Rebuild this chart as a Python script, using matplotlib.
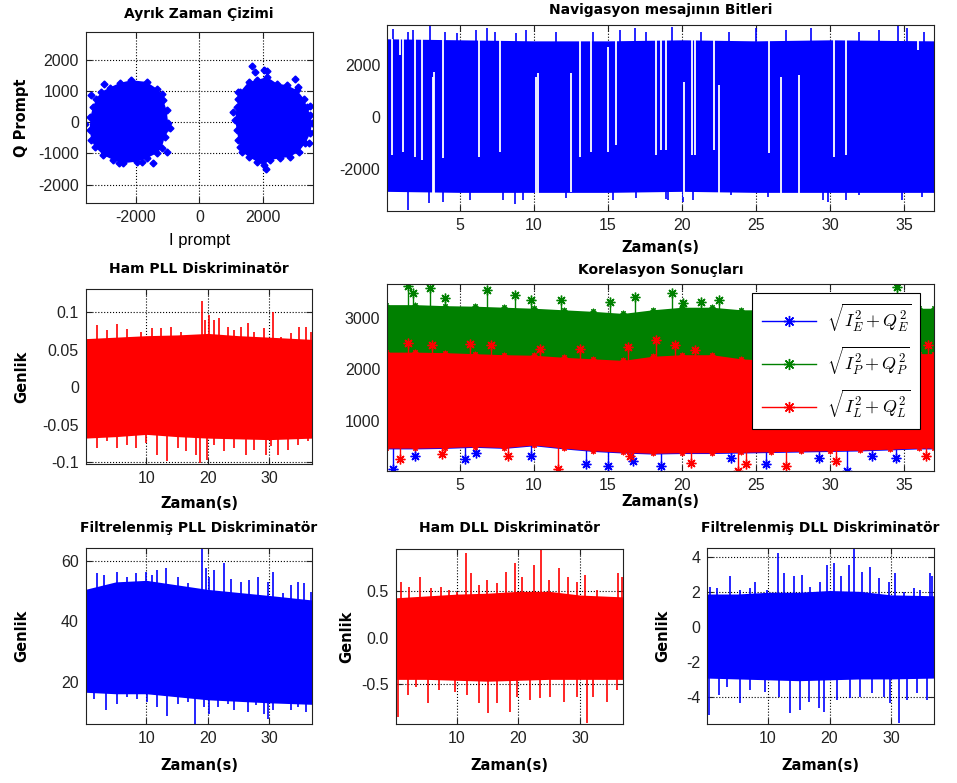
import numpy as np
import matplotlib
matplotlib.use('Agg')
import matplotlib.pyplot as plt
from matplotlib.lines import Line2D

plt.rcParams['font.family'] = ['Liberation Sans', 'DejaVu Sans']
plt.rcParams['axes.unicode_minus'] = False
plt.rcParams['mathtext.fontset'] = 'cm'

# ---------------- data ----------------
# I/Q scatter: outline of both clusters and the stray points around them
left_cluster_i = [-2132, -1659, -1344, -1187, -1134, -1029, -977, -924, -1082, -1187, -1344, -1659,
                  -1974, -2394, -2709, -3024, -3287, -3392, -3444, -3423, -3339, -3234, -3077, -2814, -2499]
left_cluster_q = [1341, 1287, 1075, 915, 702, 383, -43, -202, -468, -841, -1000, -1160,
                  -1266, -1319, -1213, -1053, -787, -575, -255, 170, 489, 755, 968, 1107, 1255]
right_cluster_i = [1281, 1544, 1806, 2121, 2436, 2751, 3066, 3276, 3381, 3486, 3539, 3486, 3329,
                   3119, 2856, 2541, 2226, 2016, 1806, 1544, 1334, 1229, 1176, 1124, 1176, 1229]
right_cluster_q = [968, 1287, 1341, 1447, 1234, 1181, 1021, 755, 489, 223, -43, -362, -681,
                   -947, -1107, -1160, -1213, -1373, -1266, -1107, -947, -575, -255, 64, 489, 755]
stray_i = [-3003, -3602, -1449, -2520, -977, -1029, -3392, -1817,
           1649, 2016, 2121, 1754, 3014, 3098, 1229, 1071, 3465, 3591, 3434, 2090, 1281]
stray_q = [1234, -64, -1298, -1298, -149, -947, 862, -1266,
           1788, 1660, 1639, 1607, 1394, 1128, 968, 330, 511, -309, -681, -1511, -787]

# time knots for the dense part of each signal
knot_t = [0, 5, 10, 15, 20, 25, 30, 37]

# navigation bits (I prompt)
nav_top = [3000, 2960, 2920, 2920, 2960, 2920, 2960, 2920]
nav_bot = [-2870, -2910, -2910, -2910, -2870, -2910, -2910, -2910]
nav_up_t = [0.51, 1.52, 1.86, 2.98, 3.99, 4.78, 6.12, 6.80, 7.36, 8.82, 9.49, 11.51, 13.98, 15.78,
            16.79, 17.58, 19.33, 21.28, 23.19, 24.99, 27.01, 28.70, 31.95, 33.30, 34.54, 35.21, 36.33]
nav_up_v = [3360, 3270, 3334, 3488, 3270, 3206, 3334, 3398, 3270, 3206, 3334, 3245, 3270, 3334,
            3398, 3245, 3462, 3270, 3270, 3398, 3334, 3398, 3270, 3334, 3488, 3398, 3270]
nav_dn_t = [1.52, 3.88, 2.9, 5.67, 7.9, 8.71, 9.27, 12.19, 15.33, 16.9, 18.93, 19.04, 20.05, 20.72,
            23.31, 25.8, 29.48, 29.82, 31.06, 31.95, 34.87, 36.2]
nav_dn_v = [-3589, -3268, -3332, -3204, -3204, -3357, -3204, -3140, -3204, -3140, -3178, -3204,
            -3268, -3204, -3012, -3076, -3204, -3268, -3204, -3012, -3204, -3076]
nav_gap_t = [0.40, 0.96, 1.18, 1.97, 2.42, 3.16, 3.27, 3.88, 6.30, 7.70, 10.12, 10.28, 12.53, 13.09,
             13.87, 15.00, 15.56, 18.25, 18.59, 18.88, 20.10, 20.66, 20.84, 22.14, 22.47, 25.84,
             26.67, 27.90, 30.27, 31.06, 35.90]
nav_gap_lo = [-1470, 2370, -1350, -1540, -1670, -3200, -3200, -1600, -1540, -1350, -3080, -2950,
              -2880, -1540, -1350, -1350, -1090, -1470, -1280, -1280, -3080, -1470, -1470, -1280,
              -3080, -1410, -3080, -3080, -1540, -1470, 2560]
nav_gap_hi = [2975, 3200, 2975, 3100, 3100, 1540, 1730, 2975, 2975, 2975, 1540, 1670, 1670, 2975,
              2975, 2700, 2975, 2975, 2975, 2975, 1350, 2975, 2975, 2975, 1220, 2975, 1540, 1600,
              2975, 2975, 3000]

# raw PLL discriminator
pll_top = [0.065, 0.067, 0.069, 0.070, 0.072, 0.069, 0.067, 0.064]
pll_bot = [-0.068, -0.066, -0.063, -0.066, -0.068, -0.069, -0.070, -0.068]
pll_up_t = [2.0, 3.63, 5.15, 6.79, 9.07, 10.97, 12.33, 13.96, 15.6, 16.68, 17.5, 18.97, 19.51, 20.22,
            21.03, 21.85, 23.21, 24.3, 25.38, 26.47, 27.56, 29.19, 30.55, 31.91, 33.54, 34.9, 35.99, 36.8]
pll_up_v = [0.083, 0.0764, 0.0844, 0.0778, 0.0742, 0.0787, 0.0796, 0.0809, 0.0742, 0.0698, 0.0653,
            0.1156, 0.0898, 0.0964, 0.0898, 0.092, 0.0809, 0.0764, 0.0809, 0.0853, 0.0742, 0.0787,
            0.1009, 0.0676, 0.072, 0.0809, 0.0809, 0.0742]
pll_dn_t = [0.48, 2.0, 3.63, 5.26, 6.79, 8.25, 9.89, 11.79, 13.42, 15.05, 16.41, 18.04, 18.75, 19.84,
            21.03, 22.66, 24.3, 26.2, 27.56, 29.46, 30.28, 31.37, 33.0, 34.63, 36.26]
pll_dn_v = [-0.066, -0.0813, -0.0724, -0.0813, -0.0769, -0.0813, -0.0747, -0.0902, -0.0991, -0.0813,
            -0.0858, -0.0902, -0.1013, -0.0969, -0.0769, -0.0858, -0.0813, -0.0902, -0.0836, -0.0902,
            -0.0791, -0.0902, -0.0836, -0.0769, -0.0724]

# filtered PLL discriminator
fpll_top = [50.5, 53, 53.5, 52, 50.5, 49.5, 48.5, 47]
fpll_bot = [16.5, 16, 16, 15, 14, 13.5, 13, 12.5]
fpll_up_t = [2.0, 3.09, 5.26, 6.79, 8.25, 9.89, 10.97, 11.79, 13.15, 15.05, 16.68, 17.5, 18.97, 19.67,
             20.22, 21.03, 22.56, 23.75, 25.38, 26.74, 28.1, 29.73, 30.55, 32.18, 33.54, 34.63, 35.72, 36.8]
fpll_up_v = [55.8, 55.2, 56.4, 54.7, 55.8, 56.4, 55.2, 56.9, 57.5, 54.7, 52.5, 50.3, 63.8, 57.5,
             54.7, 56.9, 59.1, 54.1, 53.0, 53.6, 54.7, 53.0, 56.4, 49.2, 51.9, 53.0, 52.5, 49.7]
fpll_dn_t = [0.64, 1.46, 3.36, 5.26, 6.79, 8.53, 10.16, 11.79, 13.42, 15.05, 16.68, 17.93, 19.4, 20.22,
             21.58, 23.21, 24.3, 26.47, 27.83, 29.19, 29.73, 30.55, 32.18, 33.54, 34.63, 35.99]
fpll_dn_v = [16.6, 14.4, 10.5, 12.7, 14.9, 14.4, 13.3, 11.6, 8.8, 12.7, 13.3, 6.1, 11.6, 9.4,
             11.6, 12.7, 10.5, 9.9, 12.2, 9.4, 7.7, 10.5, 13.8, 10.5, 11.6, 9.9]

# raw DLL discriminator
dll_top = [0.43, 0.45, 0.47, 0.48, 0.50, 0.50, 0.46, 0.44]
dll_bot = [-0.45, -0.45, -0.46, -0.47, -0.46, -0.45, -0.45, -0.45]
dll_up_t = [0.97, 2.31, 4.09, 5.81, 7.42, 8.76, 10.11, 11.56, 12.26, 13.6, 14.95, 16.56, 18.06, 19.52,
            20.59, 22.58, 23.66, 24.89, 26.5, 27.96, 29.46, 30.81, 32.69, 34.57, 36.18, 36.72]
dll_up_v = [0.604, 0.55, 0.658, 0.532, 0.55, 0.514, 0.496, 0.91, 0.694, 0.568, 0.622, 0.586, 0.712,
            0.802, 0.658, 0.784, 0.953, 0.622, 0.748, 0.658, 0.604, 0.676, 0.514, 0.424, 0.694, 0.658]
dll_dn_t = [0.43, 2.15, 3.39, 5.38, 7.15, 9.68, 11.72, 13.6, 15.11, 16.56, 18.71, 19.78, 21.94, 23.55,
            25.16, 27.31, 29.46, 31.08, 32.15, 34.3, 35.91]
dll_dn_v = [-0.853, -0.619, -0.529, -0.709, -0.565, -0.583, -0.619, -0.709, -0.817, -0.709, -0.799,
            -0.637, -0.673, -0.655, -0.637, -0.691, -0.637, -0.924, -0.637, -0.691, -0.565]

# filtered DLL discriminator
fdll_top = [1.9, 1.9, 2.0, 2.0, 2.1, 2.05, 1.85, 1.8]
fdll_bot = [-2.9, -2.95, -3.0, -3.05, -3.0, -2.95, -2.95, -2.9]
fdll_up_t = [0.62, 1.7, 3.76, 5.5, 7.12, 7.93, 9.83, 11.57, 12.54, 14.17, 15.52, 16.88, 18.5, 19.59,
             20.67, 21.86, 23.11, 23.92, 25.28, 26.63, 27.99, 29.61, 30.7, 32.05, 33.68, 34.76, 36.28, 36.66]
fdll_up_v = [2.32, 2.23, 2.9, 2.13, 2.23, 2.61, 2.13, 4.23, 3.09, 2.9, 2.99, 2.32, 2.61, 3.56,
             3.66, 2.9, 3.56, 4.46, 3.18, 3.47, 2.8, 2.61, 3.09, 2.04, 2.23, 2.13, 3.09, 2.9]
fdll_dn_t = [0.35, 1.97, 3.33, 5.39, 7.12, 9.56, 11.73, 13.52, 15.14, 16.61, 18.23, 19.05, 21.21, 23.38,
             25.01, 26.9, 28.8, 29.89, 31.24, 32.6, 34.22, 35.85]
fdll_dn_v = [-5.01, -3.87, -3.39, -4.34, -3.58, -3.68, -3.96, -4.91, -4.72, -4.25, -4.63, -4.82,
             -4.15, -4.06, -3.96, -3.77, -3.96, -4.34, -5.49, -4.15, -3.77, -4.15]

# correlator outputs (early / prompt / late)
corr_t = [0, 2, 4, 6, 8, 10, 12, 14, 16, 18, 20, 22, 24, 26, 28, 30, 32, 34, 36, 37]
corr_p_top = [3250, 3250, 3230, 3220, 3200, 3180, 3150, 3120, 3080, 3150, 3200, 3200, 3150,
              3150, 3150, 3150, 3150, 3150, 3180, 3180]
corr_p_bot = [2000] * 20
corr_l_top = [2330, 2330, 2320, 2300, 2280, 2270, 2230, 2200, 2170, 2250, 2280, 2280, 2200,
              2170, 2170, 2200, 2230, 2260, 2300, 2300]
corr_l_bot = [470, 470, 480, 500, 480, 530, 470, 420, 390, 370, 380, 380, 390, 400, 410, 420,
              430, 450, 470, 470]
corr_e_top = [2200] * 20
corr_e_bot = [455, 455, 465, 485, 465, 515, 455, 405, 375, 355, 365, 365, 375, 385, 395, 405,
              415, 435, 455, 455]
corr_p_star_t = [1.52, 1.86, 2.98, 3.99, 6.83, 8.71, 9.83, 11.85, 15.11, 16.79, 19.33, 20.05,
                 21.28, 22.47, 34.47]
corr_p_star_v = [3620, 3468, 3566, 3371, 3532, 3435, 3338, 3338, 3305, 3402, 3468, 3273,
                 3305, 3338, 3597]
corr_l_up_t = [1.52, 3.09, 5.67, 7.13, 10.38, 13.08, 16.34, 18.25, 19.49, 20.84, 36.6]
corr_l_up_v = [2514, 2462, 2494, 2462, 2397, 2400, 2429, 2559, 2462, 2364, 2460]
corr_l_dn_t = [0.96, 3.77, 8.26, 11.63, 16.46, 20.61, 23.76, 24.32, 27.01, 30.38, 36.45]
corr_l_dn_v = [255, 350, 320, 60, 320, 190, 30, 157, 125, 222, 320]
corr_e_dn_t = [0.46, 1.97, 5.34, 6.12, 9.83, 13.53, 15.0, 16.68, 18.59, 23.31, 25.67, 29.27,
               31.15, 32.83, 34.43]
corr_e_dn_v = [60, 320, 255, 383, 320, 157, 125, 222, 125, 287, 157, 287, 30, 320, 287]

# ---------------- drawing ----------------
W, H = 957, 783
BLUE = (0, 0, 1)
RED = (1, 0, 0)
GREEN = (0, 0.5, 0)
STAR = (8, 2, 0)
TITLE = dict(fontsize=10, fontweight='bold', family='DejaVu Sans')
BOLD = dict(fontsize=10.5, fontweight='bold', family='DejaVu Sans')
T_LIM = (0.1, 37.0)

fig = plt.figure(figsize=(W / 100, H / 100), dpi=100)


def make_axes(box, title, title_y, xlabel=None, xlabel_y=None, ylabel=None, ylabel_x=None,
              xlabel_kw=BOLD):
    l, t, r, b = box
    w, h = r - l, b - t
    ax = fig.add_axes([l / W, 1 - b / H, w / W, h / H])
    ax.set_title(title, y=(b - title_y) / h, va='center', pad=0, **TITLE)
    if xlabel:
        ax.set_xlabel(xlabel, **xlabel_kw)
        ax.xaxis.set_label_coords(0.5, -(xlabel_y - b) / h)
        ax.xaxis.label.set_va('center')
    if ylabel:
        ax.set_ylabel(ylabel, **BOLD)
        ax.yaxis.set_label_coords((ylabel_x - l) / w, 0.5)
        ax.yaxis.label.set_va('center')
    ax.tick_params(direction='in', length=4, width=0.8, labelsize=11.5, pad=5,
                   top=True, right=True, colors='#222222')
    ax.grid(True, ls=':', color='k', lw=0.8)
    ax.set_axisbelow(True)
    for s in ax.spines.values():
        s.set_linewidth(0.8)
        s.set_color('#222222')
    return ax


def band(ax, top, bot, up_t, up_v, dn_t, dn_v, color, t=knot_t, z=2, lw=1.2):
    mid = (np.mean(top) + np.mean(bot)) / 2
    ax.fill_between(t, bot, top, color=color, lw=0, zorder=z)
    ax.vlines(up_t, mid, up_v, color=color, lw=lw, zorder=z)
    ax.vlines(dn_t, dn_v, mid, color=color, lw=lw, zorder=z)


# discrete-time I/Q scatter
ax = make_axes((85.7, 32.3, 312.7, 203.3), 'Ayrık Zaman Çizimi', 14,
               'I prompt', 240, 'Q Prompt', 21.7, xlabel_kw=dict(fontsize=12))
for ci, cq in ((left_cluster_i, left_cluster_q), (right_cluster_i, right_cluster_q)):
    ax.fill(ci, cq, color=BLUE, lw=0, zorder=2)
    ax.plot(ci, cq, ls='none', marker='D', ms=3.5, color=BLUE, zorder=2)
ax.plot(stray_i, stray_q, ls='none', marker='D', ms=3.5, color=BLUE, zorder=2)
ax.set_xlim(-3570, 3560)
ax.set_ylim(-2600, 2875)
ax.set_xticks([-2000, 0, 2000])
ax.set_yticks([-2000, -1000, 0, 1000, 2000])

# navigation message bits
ax = make_axes((387.3, 25, 934, 210.7), 'Navigasyon mesajının Bitleri', 10,
               'Zaman(s)', 248)
band(ax, nav_top, nav_bot, nav_up_t, nav_up_v, nav_dn_t, nav_dn_v, BLUE)
ax.vlines(nav_gap_t, nav_gap_lo, nav_gap_hi, color='white', lw=1.3, zorder=3)
ax.set_xlim(*T_LIM)
ax.set_ylim(-3615, 3530)
ax.set_xticks(range(5, 36, 5))
ax.set_yticks([-2000, 0, 2000])

# raw PLL discriminator
ax = make_axes((85.7, 289.3, 312.3, 464.3), 'Ham PLL Diskriminatör', 269,
               'Zaman(s)', 503, 'Genlik', 21.7)
band(ax, pll_top, pll_bot, pll_up_t, pll_up_v, pll_dn_t, pll_dn_v, RED)
ax.set_xlim(*T_LIM)
ax.set_ylim(-0.103, 0.131)
ax.set_xticks([10, 20, 30])
ax.set_yticks([-0.1, -0.05, 0, 0.05, 0.1])
ax.set_yticklabels(['-0.1', '-0.05', '0', '0.05', '0.1'])

# correlation results
ax = make_axes((387.3, 284.3, 934, 471), 'Korelasyon Sonuçları', 270,
               'Zaman(s)', 501.5)
series = [
    (BLUE, corr_e_top, corr_e_bot, [], [], corr_e_dn_t, corr_e_dn_v, 2.0),
    (GREEN, corr_p_top, corr_p_bot, corr_p_star_t, corr_p_star_v, [], [], 2.1),
    (RED, corr_l_top, corr_l_bot, corr_l_up_t, corr_l_up_v, corr_l_dn_t, corr_l_dn_v, 2.2),
]
for color, top, bot, ut, uv, dt, dv, z in series:
    band(ax, top, bot, ut, uv, dt, dv, color, t=corr_t, z=z, lw=1.0)
    ax.plot(ut + dt, uv + dv, ls='none', marker=STAR, ms=7, mew=1.0, color=color, zorder=z)
    if color != BLUE:
        ax.plot(corr_t, top, ls='none', marker=STAR, ms=4, mew=0.8, color=color, zorder=z)
        ax.plot(corr_t, bot, ls='none', marker=STAR, ms=4, mew=0.8, color=color, zorder=z)
ax.set_xlim(*T_LIM)
ax.set_ylim(27, 3644)
ax.set_xticks(range(5, 36, 5))
ax.set_yticks([1000, 2000, 3000])
handles = [Line2D([], [], color=c, lw=1.0, marker=STAR, ms=8, mew=1.0) for c in (BLUE, GREEN, RED)]
labels = [r'$\sqrt{I_E^2 + Q_E^2}$', r'$\sqrt{I_P^2 + Q_P^2}$', r'$\sqrt{I_L^2 + Q_L^2}$']
leg = ax.legend(handles, labels, loc='upper left', bbox_to_anchor=(0.668, 0.952),
                borderaxespad=0, fontsize=13, handlelength=3.0, labelspacing=0.6,
                borderpad=0.5, handletextpad=0.6, fancybox=False, framealpha=1, edgecolor='k')
leg.get_frame().set_linewidth(0.8)
leg.set_zorder(5)

# filtered PLL discriminator
ax = make_axes((85.7, 548.3, 312.3, 724), 'Filtrelenmiş PLL Diskriminatör', 528,
               'Zaman(s)', 766, 'Genlik', 21.7)
band(ax, fpll_top, fpll_bot, fpll_up_t, fpll_up_v, fpll_dn_t, fpll_dn_v, BLUE)
ax.set_xlim(*T_LIM)
ax.set_ylim(6, 64.1)
ax.set_xticks([10, 20, 30])
ax.set_yticks([20, 40, 60])

# raw DLL discriminator
ax = make_axes((395.7, 549, 623.3, 724.3), 'Ham DLL Diskriminatör', 528,
               'Zaman(s)', 766, 'Genlik', 346.7)
band(ax, dll_top, dll_bot, dll_up_t, dll_up_v, dll_dn_t, dll_dn_v, RED)
ax.set_xlim(*T_LIM)
ax.set_ylim(-0.935, 0.957)
ax.set_xticks([10, 20, 30])
ax.set_yticks([-0.5, 0, 0.5])

# filtered DLL discriminator
ax = make_axes((707.3, 548.3, 934, 724.3), 'Filtrelenmiş DLL Diskriminatör', 528,
               'Zaman(s)', 766, 'Genlik', 662.7)
band(ax, fdll_top, fdll_bot, fdll_up_t, fdll_up_v, fdll_dn_t, fdll_dn_v, BLUE)
ax.set_xlim(*T_LIM)
ax.set_ylim(-5.54, 4.51)
ax.set_xticks([10, 20, 30])
ax.set_yticks([-4, -2, 0, 2, 4])

fig.savefig('out.png', dpi=100)
